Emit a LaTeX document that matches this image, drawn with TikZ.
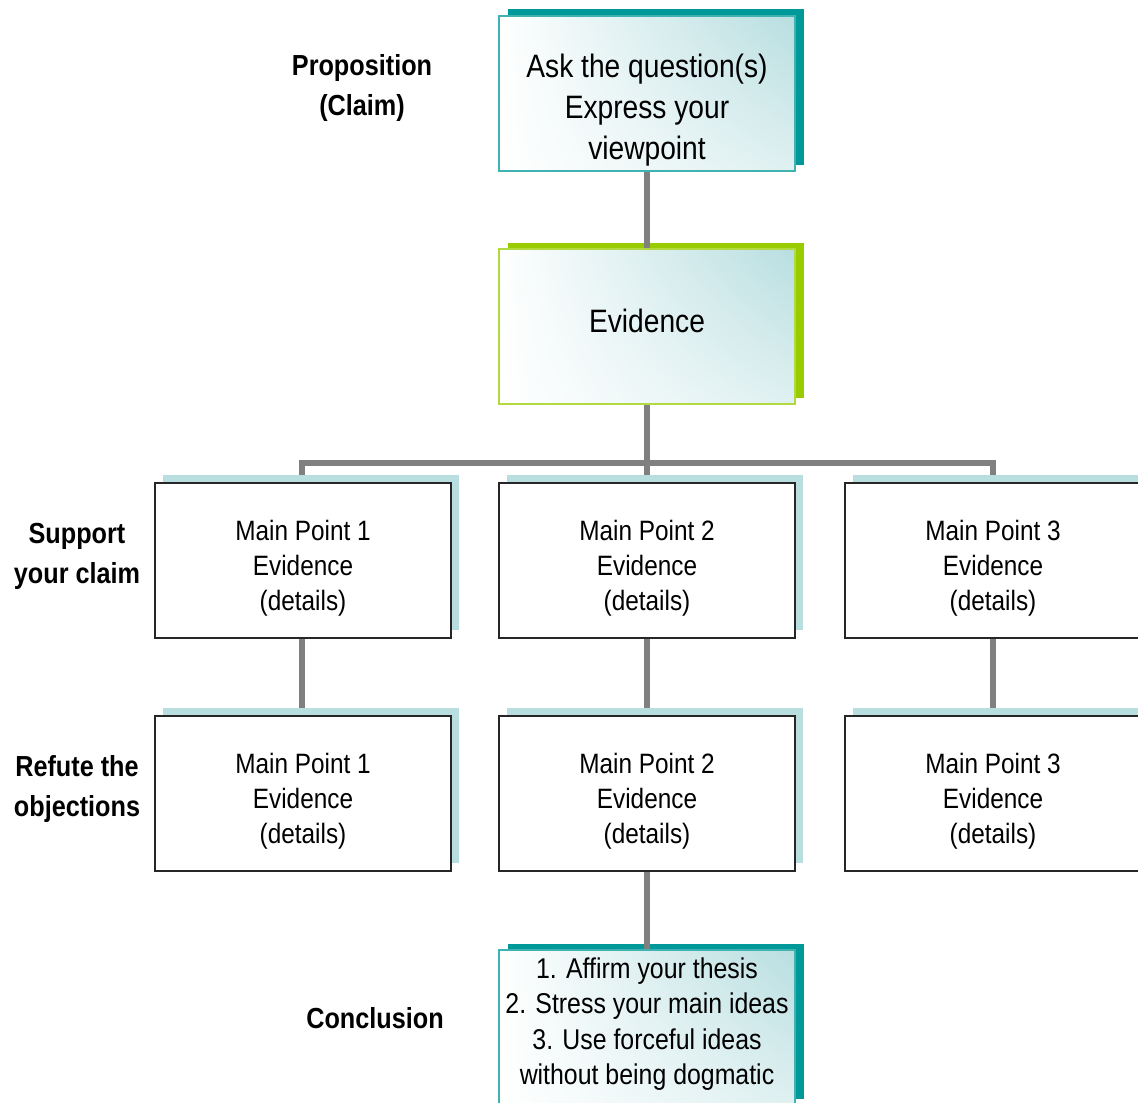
\documentclass[tikz,border=0pt]{standalone}
\usepackage{fontspec}
\usetikzlibrary{shadings}
\setmainfont[FakeStretch=0.87]{Liberation Sans}
\definecolor{tealD}{RGB}{0,153,153}
\definecolor{tealL}{RGB}{184,222,224}
\definecolor{greenD}{RGB}{153,204,0}
\definecolor{connc}{RGB}{128,128,128}
\tikzset{
  box/.style={rectangle, minimum width=148pt, minimum height=77.5pt, inner sep=0pt, draw=black!85, line width=0.6pt, fill=white},
  shbox/.style={rectangle, minimum width=148pt, minimum height=77.5pt, inner sep=0pt, draw=none},
  gradbox/.style={box, upper left=white, upper right=tealL, lower left=white, lower right=white!55!tealL},
  connector/.style={draw=connc, line width=3pt},
  lbl/.style={font=\bfseries\fontsize{14.5}{20}\selectfont, align=center},
  txt/.style={font=\fontsize{14}{17.5}\selectfont, align=center},
  bigtxt/.style={font=\fontsize{16.2}{20.5}\selectfont, align=center},
}
\begin{document}
\begin{tikzpicture}[x=0.5pt, y=-0.5pt]
\useasboundingbox (0,0) rectangle (1138,1102);
\clip (0,0) rectangle (1138,1102);

% shadows
\node[shbox, fill=tealD] (tops) at (655.5,87) {};
\node[shbox, fill=greenD] (evs) at (655.5,320) {};
\node[shbox, fill=tealD] (concs) at (655.5,1021) {};

% connectors first (behind boxes)
\coordinate (bar) at (647,463);
\coordinate (topanchor) at (647,171);
\coordinate (evtop) at (647,249);
\coordinate (evbot) at (647,404);
\draw[connector] (topanchor) -- (evtop);
\draw[connector] (evbot) -- (bar);
\coordinate (c1) at (302,483);
\coordinate (c3) at (993,483);
\coordinate (c2) at (647,483);
\draw[connector] (c1) |- (bar) -| (c3);
\draw[connector] (bar) -- (c2);
\coordinate (a1) at (302,638); \coordinate (b1) at (302,716);
\coordinate (a2) at (647,638); \coordinate (b2) at (647,716);
\coordinate (a3) at (993,638); \coordinate (b3) at (993,716);
\coordinate (a4) at (647,871); \coordinate (b4) at (647,950);
\draw[connector] (a1) -- (b1);
\draw[connector] (a2) -- (b2);
\draw[connector] (a3) -- (b3);
\draw[connector] (a4) -- (b4);

% shadows of main point boxes
\foreach \x/\n in {303/1,647/2,993/3}{
  \node[shbox, fill=tealL] (ms\n) at (\x+8,552.5) {};
  \node[shbox, fill=tealL] (rs\n) at (\x+8,785.5) {};
}

% front boxes
\node[gradbox, draw=tealD!75] (top) at (647,93.5) {};
\node[gradbox, draw=greenD!75] (ev) at (647,326.5) {};
\node[gradbox, draw=tealD!75] (conc) at (647,1027.5) {};
\foreach \x/\n in {303/1,647/2,993/3}{
  \node[box] (m\n) at (\x,560.5) {};
  \node[box] (r\n) at (\x,793.5) {};
  \node[txt] (mt\n) at (\x,568) {Main Point \n\\Evidence\\(details)};
  \node[txt] (rt\n) at (\x,801) {Main Point \n\\Evidence\\(details)};
}

% box texts
\node[bigtxt] (toptxt) at (647,110) {Ask the question(s)\\Express your\\viewpoint};
\node[bigtxt] (evtxt) at (647,321) {Evidence};
\node[txt, font=\fontsize{14.3}{17.8}\selectfont] (conctxt) at (647,1024) {1. Affirm your thesis\\2. Stress your main ideas\\3. Use forceful ideas\\without being dogmatic};

% side labels
\node[lbl] (l1) at (362,88) {Proposition\\(Claim)};
\node[lbl] (l2) at (77,556) {Support\\your claim};
\node[lbl] (l3) at (77,789) {Refute the\\objections};
\node[lbl] (l4) at (375,1018) {Conclusion};
\end{tikzpicture}
\end{document}
